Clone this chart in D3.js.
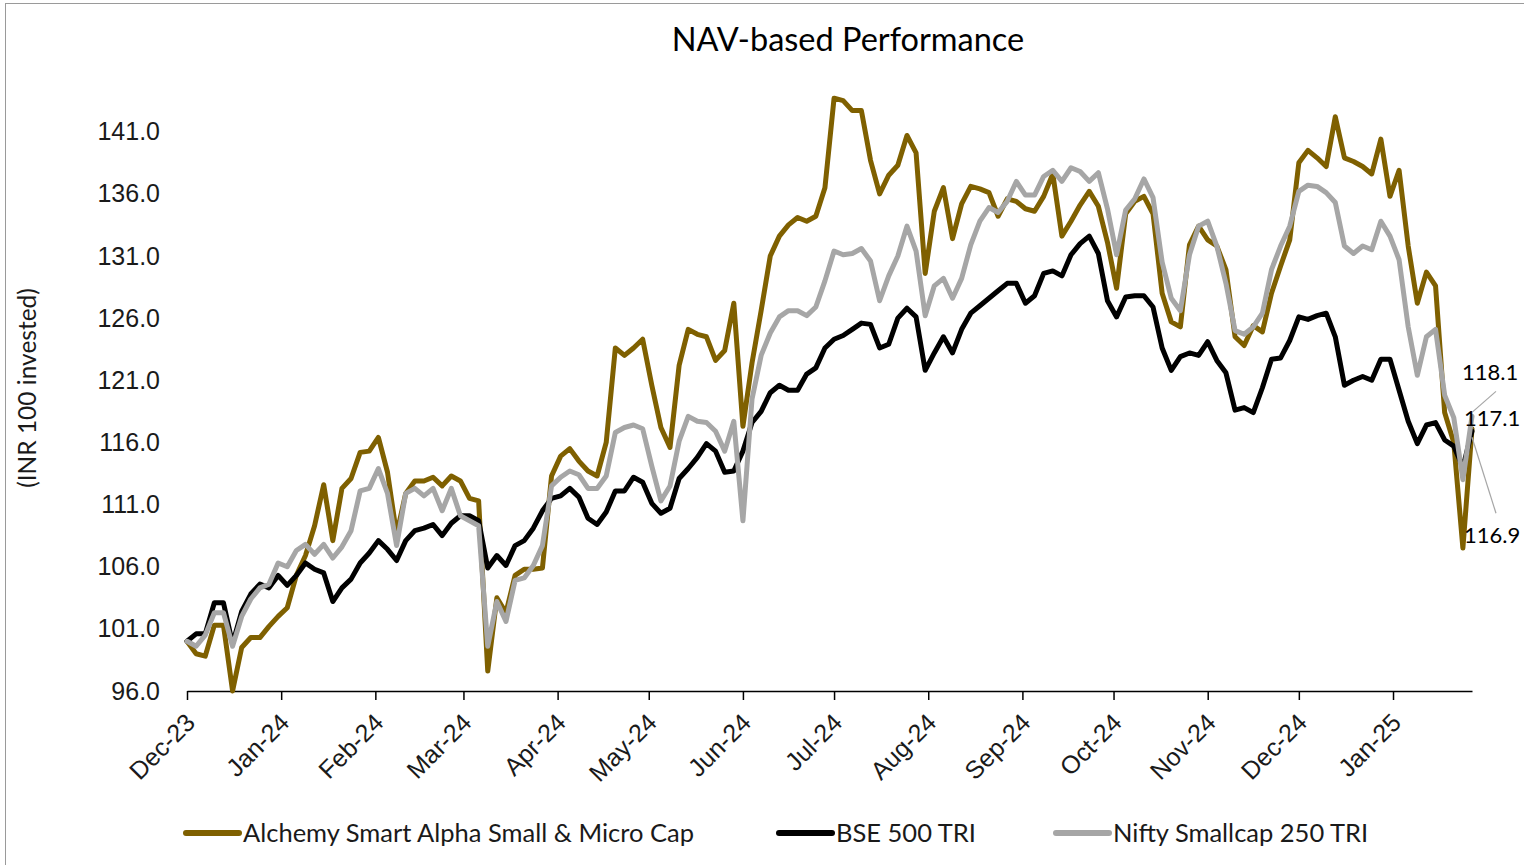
<!DOCTYPE html>
<html>
<head>
<meta charset="utf-8">
<title>NAV-based Performance</title>
<script src="https://cdn.jsdelivr.net/npm/d3@7/dist/d3.min.js"></script>
<style>
  body { margin: 0; background: #fff; }
  svg { display: block; font-family: Lato, 'Open Sans', sans-serif; }
  .axis text { font-size: 25px; fill: #1a1a1a; }
</style>
</head>
<body>
<svg id="chart"></svg>
<script>
// series names, in drawing order (last one on top)
const seriesNames = ['Alchemy Smart Alpha Small & Micro Cap', 'BSE 500 TRI', 'Nifty Smallcap 250 TRI']

// observation dates: every third calendar day, 1 Dec 2023 .. 27 Jan 2025
const dates = d3.timeDay.range(new Date(2023, 11, 1), new Date(2025, 0, 28), 3)

// NAV, INR 100 invested
const alchemy = [
  100.0, 99.0, 98.8, 101.3, 101.3, 96.0, 99.5, 100.3, 100.3, 101.2,
  102.0, 102.7, 105.3, 106.9, 109.3, 112.6, 108.1, 112.3, 113.1, 115.2,
  115.3, 116.4, 113.6, 108.6, 111.9, 112.9, 112.9, 113.2, 112.5, 113.3,
  112.9, 111.5, 111.3, 97.6, 103.5, 102.3, 105.3, 105.8, 105.8, 105.9,
  113.3, 114.9, 115.5, 114.5, 113.7, 113.3, 116.0, 123.6, 123.0, 123.6,
  124.3, 120.6, 117.2, 115.6, 122.2, 125.1, 124.7, 124.5, 122.6, 123.4,
  127.2, 117.3, 122.4, 126.6, 131.0, 132.6, 133.5, 134.1, 133.8, 134.2,
  136.5, 143.7, 143.5, 142.7, 142.7, 138.7, 136.0, 137.5, 138.3, 140.7,
  139.3, 129.6, 134.6, 136.5, 132.4, 135.2, 136.6, 136.4, 136.1, 134.2,
  135.6, 135.4, 134.8, 134.6, 135.8, 137.6, 132.6, 133.8, 135.1, 136.2,
  135.0, 132.1, 128.4, 134.4, 135.4, 135.8, 134.4, 128.0, 125.7, 125.3,
  131.9, 133.4, 132.3, 131.8, 129.9, 124.5, 123.8, 125.4, 124.9, 128.0,
  130.2, 132.3, 138.5, 139.5, 138.9, 138.2, 142.2, 138.9, 138.6, 138.2,
  137.6, 140.4, 135.8, 137.9, 131.8, 127.2, 129.7, 128.6, 118.4, 116.0,
  107.5, 117.1
]
const bse500 = [
  100.0, 100.6, 100.6, 103.1, 103.1, 99.8, 102.4, 103.8, 104.6, 104.3,
  105.3, 104.5, 105.3, 106.3, 105.8, 105.5, 103.2, 104.3, 105.0, 106.3,
  107.1, 108.1, 107.4, 106.5, 108.1, 108.9, 109.1, 109.4, 108.5, 109.5,
  110.1, 110.1, 109.7, 105.9, 106.9, 106.1, 107.7, 108.1, 109.1, 110.5,
  111.5, 111.7, 112.3, 111.6, 109.9, 109.4, 110.4, 112.1, 112.1, 113.2,
  112.8, 111.1, 110.3, 110.7, 113.1, 113.9, 114.8, 115.9, 115.3, 113.6,
  113.7, 115.3, 117.6, 118.5, 120.0, 120.6, 120.2, 120.2, 121.5, 122.0,
  123.6, 124.3, 124.6, 125.1, 125.6, 125.5, 123.6, 123.9, 126.0, 126.8,
  126.1, 121.8, 123.2, 124.5, 123.2, 125.1, 126.4, 127.0, 127.6, 128.2,
  128.8, 128.8, 127.2, 127.8, 129.6, 129.8, 129.4, 131.1, 132.0, 132.6,
  131.2, 127.4, 126.1, 127.7, 127.8, 127.8, 126.9, 123.6, 121.8, 122.9,
  123.2, 123.0, 124.1, 122.6, 121.6, 118.6, 118.8, 118.4, 120.4, 122.7,
  122.8, 124.2, 126.1, 125.9, 126.2, 126.4, 124.5, 120.6, 121.0, 121.3,
  121.0, 122.7, 122.7, 120.2, 117.7, 115.9, 117.4, 117.6, 116.2, 115.7,
  114.0, 116.9
]
const smallcap250 = [
  100.0, 99.6, 100.5, 102.3, 102.3, 99.6, 102.0, 103.4, 104.3, 104.6,
  106.3, 106.0, 107.3, 107.8, 107.0, 107.8, 106.7, 107.6, 108.9, 112.1,
  112.3, 113.9, 111.9, 107.7, 111.9, 112.3, 111.7, 112.3, 110.5, 112.3,
  110.1, 109.7, 109.3, 99.6, 103.2, 101.6, 104.9, 105.1, 106.1, 107.7,
  112.5, 113.2, 113.7, 113.4, 112.3, 112.3, 113.3, 116.8, 117.2, 117.4,
  117.1, 114.1, 111.3, 112.5, 116.1, 118.1, 117.7, 117.6, 116.9, 115.3,
  117.7, 109.7, 119.5, 123.0, 124.8, 126.1, 126.6, 126.6, 126.2, 126.9,
  129.0, 131.4, 131.1, 131.2, 131.6, 130.6, 127.4, 129.4, 131.0, 133.4,
  131.4, 126.2, 128.6, 129.2, 127.6, 129.2, 131.9, 133.8, 134.9, 134.5,
  135.4, 137.0, 135.9, 135.9, 137.4, 137.9, 137.0, 138.1, 137.8, 137.0,
  137.7, 134.8, 131.1, 134.7, 135.6, 137.2, 135.7, 130.5, 127.6, 126.6,
  131.1, 133.4, 133.8, 131.8, 128.8, 125.0, 124.7, 125.3, 126.4, 129.9,
  131.8, 133.4, 136.2, 136.7, 136.6, 136.1, 135.3, 131.8, 131.2, 131.8,
  131.5, 133.8, 132.6, 130.7, 125.3, 121.4, 124.5, 125.1, 119.8, 118.0,
  113.0, 118.1
]

const yTicks = [96, 101, 106, 111, 116, 121, 126, 131, 136, 141]
const monthTicks = d3.timeMonth.range(new Date(2023, 11, 1), new Date(2025, 0, 2))

const defaults = {
  width: 1524,
  height: 865,
  margin: { top: 82, right: 52, bottom: 174, left: 187 },
  yDomain: [96, 145],
  colors: ['#7f6000', '#000000', '#a6a6a6'],
  lineWidth: 5,
  // where the last-value labels sit, relative to each series' last point
  labelOffsets: [[-8, -10], [-8, 104], [-10, -44]],
  legendX: [186, 779, 1056],
  legendY: 833
}

const conf = defaults
const { width, height, margin } = conf
const w = width - margin.left - margin.right
const h = height - margin.top - margin.bottom

const series = [alchemy, bse500, smallcap250].map((values, i) => ({
  name: seriesNames[i],
  color: conf.colors[i],
  points: values.map((v, j) => ({ date: dates[j], value: v }))
}))

const svg = d3.select('#chart')
  .attr('width', width)
  .attr('height', height)

// outer frame
svg.append('rect')
  .attr('x', 5.5).attr('y', 3.5)
  .attr('width', width + 20).attr('height', height - 3)
  .attr('fill', 'none')
  .attr('stroke', '#9a9a9a')

svg.append('text')
  .attr('x', 848)
  .attr('y', 51)
  .attr('text-anchor', 'middle')
  .attr('font-size', 32.5)
  .attr('fill', '#000')
  .text('NAV-based Performance')

svg.append('text')
  .attr('transform', 'translate(36, 388) rotate(-90)')
  .attr('text-anchor', 'middle')
  .attr('font-size', 24.5)
  .attr('fill', '#1a1a1a')
  .text('(INR 100 invested)')

const chart = svg.append('g')
  .attr('transform', `translate(${margin.left}, ${margin.top})`)

const x = d3.scaleTime()
  .domain([dates[0], dates[dates.length - 1]])
  .range([0, w])

const y = d3.scaleLinear()
  .domain(conf.yDomain)
  .range([h, 0])

const xAxis = d3.axisBottom(x)
  .tickValues(monthTicks)
  .tickSize(9)
  .tickSizeOuter(0)
  .tickFormat(d3.timeFormat('%b-%y'))

const yAxis = d3.axisLeft(y)
  .tickValues(yTicks)
  .tickSize(0)
  .tickPadding(27)
  .tickFormat(d3.format('.1f'))

chart.append('g')
  .attr('class', 'y axis')
  .call(yAxis)
  .call(g => g.select('.domain').remove())

const gx = chart.append('g')
  .attr('class', 'x axis')
  .attr('transform', `translate(0, ${h})`)
  .call(xAxis)

gx.select('.domain').attr('stroke', '#000').attr('stroke-width', 1.5)
gx.selectAll('.tick line').attr('stroke', '#000').attr('stroke-width', 1.5)
gx.selectAll('.tick text')
  .attr('x', 0)
  .attr('y', 0)
  .attr('dy', '0.35em')
  .attr('text-anchor', 'end')
  .attr('transform', 'translate(3, 27) rotate(-45)')

const line = d3.line()
  .x(d => x(d.date))
  .y(d => y(d.value))

chart.selectAll('.line')
  .data(series)
  .enter()
  .append('path')
  .attr('class', 'line')
  .attr('d', d => line(d.points))
  .attr('fill', 'none')
  .attr('stroke', d => d.color)
  .attr('stroke-width', conf.lineWidth)
  .attr('stroke-linejoin', 'round')
  .attr('stroke-linecap', 'round')

// last-value labels, two of them with leader lines
series.forEach((s, i) => {
  const last = s.points[s.points.length - 1]
  const px = x(last.date)
  const py = y(last.value)
  const [dx, dy] = conf.labelOffsets[i]
  if (Math.abs(dy) > 20) {
    const ty = dy < 0 ? py + dy + 19 : py + dy - 22
    chart.append('line')
      .attr('x1', px).attr('y1', py + (dy < 0 ? -4 : 6))
      .attr('x2', px + 24).attr('y2', ty)
      .attr('stroke', '#a6a6a6')
      .attr('stroke-width', 1.2)
  }
  chart.append('text')
    .attr('x', px + dx)
    .attr('y', py + dy)
    .attr('dy', '0.35em')
    .attr('font-size', 22)
    .attr('fill', '#000')
    .text(last.value.toFixed(1))
})

// legend
const legend = svg.append('g')
  .selectAll('g')
  .data(series)
  .enter()
  .append('g')
  .attr('transform', (d, i) => `translate(${conf.legendX[i]}, ${conf.legendY})`)

legend.append('line')
  .attr('x1', 0).attr('x2', 53)
  .attr('stroke', d => d.color)
  .attr('stroke-width', 6)
  .attr('stroke-linecap', 'round')

legend.append('text')
  .attr('x', 57)
  .attr('dy', '0.35em')
  .attr('font-size', 25.5)
  .attr('fill', '#1a1a1a')
  .text(d => d.name)
</script>
</body>
</html>
